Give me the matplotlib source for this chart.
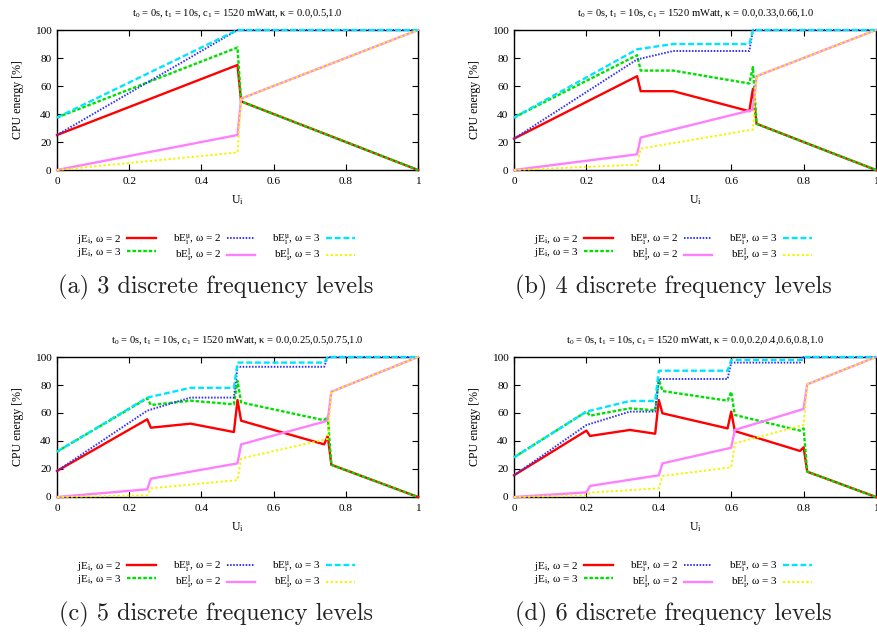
import matplotlib
matplotlib.use("Agg")
import matplotlib.pyplot as plt
from matplotlib.lines import Line2D

plt.rcParams['font.family'] = ['Liberation Serif', 'DejaVu Serif']
plt.rcParams['mathtext.fontset'] = 'custom'
plt.rcParams['mathtext.rm'] = 'Liberation Serif'
plt.rcParams['mathtext.it'] = 'Liberation Serif:italic'
plt.rcParams['mathtext.bf'] = 'Liberation Serif:bold'

# ---------------- data ----------------
KAPPAS = ["0.0,0.5,1.0", "0.0,0.33,0.66,1.0", "0.0,0.25,0.5,0.75,1.0", "0.0,0.2,0.4,0.6,0.8,1.0"]
CAPTIONS = ["(a) 3 discrete frequency levels", "(b) 4 discrete frequency levels",
            "(c) 5 discrete frequency levels", "(d) 6 discrete frequency levels"]
X_TICKS = [0, 0.2, 0.4, 0.6, 0.8, 1]
X_TICK_LABELS = ["0", "0.2", "0.4", "0.6", "0.8", "1"]
Y_TICKS = [0, 20, 40, 60, 80, 100]

# panel (a)
A_JE2_X = [0, 0.5, 0.51, 1]
A_JE2_Y = [25, 75, 49, 0]
A_JE3_X = [0, 0.5, 0.51, 1]
A_JE3_Y = [37.5, 87.5, 49, 0]
A_BU2_X = [0, 0.5, 1]
A_BU2_Y = [25, 100, 100]
A_BL2_X = [0, 0.5, 0.51, 1]
A_BL2_Y = [0, 25, 51, 100]
A_BU3_X = [0, 0.5, 1]
A_BU3_Y = [37.5, 100, 100]
A_BL3_X = [0, 0.5, 0.51, 1]
A_BL3_Y = [0, 12.5, 51, 100]

# panel (b)
B_JE2_X = [0, 0.34, 0.35, 0.44, 0.65, 0.66, 0.67, 1]
B_JE2_Y = [22.4, 67, 56.3, 56.3, 42, 58, 33, 0]
B_JE3_X = [0, 0.34, 0.35, 0.44, 0.65, 0.66, 0.67, 1]
B_JE3_Y = [37.5, 82, 71, 71, 61.8, 73.5, 33, 0]
B_BU2_X = [0, 0.34, 0.44, 0.65, 0.66, 1]
B_BU2_Y = [22.4, 79, 85, 85, 100, 100]
B_BL2_X = [0, 0.34, 0.35, 0.66, 0.67, 1]
B_BL2_Y = [0, 11.2, 23.2, 43, 67, 100]
B_BU3_X = [0, 0.34, 0.44, 0.65, 0.66, 1]
B_BU3_Y = [37.5, 86.2, 90, 90, 100, 100]
B_BL3_X = [0, 0.34, 0.35, 0.66, 0.67, 1]
B_BL3_Y = [0, 3.8, 15.3, 28.9, 67, 100]

# panel (c)
C_JE2_X = [0, 0.25, 0.26, 0.37, 0.49, 0.5, 0.51, 0.74, 0.75, 0.76, 1]
C_JE2_Y = [18.6, 55.5, 49.5, 52.4, 46.4, 69.3, 54.5, 37.6, 43.6, 23, 0]
C_JE3_X = [0, 0.25, 0.26, 0.37, 0.49, 0.5, 0.51, 0.74, 0.75, 0.76, 1]
C_JE3_Y = [32.4, 70.5, 65.7, 68.8, 66.2, 83, 67.6, 54.8, 57.5, 23, 0]
C_BU2_X = [0, 0.25, 0.37, 0.49, 0.5, 0.74, 0.75, 1]
C_BU2_Y = [18.6, 61.7, 71, 71, 93, 93, 100, 100]
C_BL2_X = [0, 0.25, 0.26, 0.5, 0.51, 0.75, 0.76, 1]
C_BL2_Y = [0, 5.5, 13.1, 24, 37.6, 54.5, 75.2, 100]
C_BU3_X = [0, 0.25, 0.37, 0.49, 0.5, 0.74, 0.75, 1]
C_BU3_Y = [32.4, 71, 78, 78, 96, 96, 100, 100]
C_BL3_X = [0, 0.25, 0.26, 0.5, 0.51, 0.75, 0.76, 1]
C_BL3_Y = [0, 1.2, 6.2, 12.1, 27.5, 41.5, 75.2, 100]

# panel (d)
D_JE2_X = [0, 0.2, 0.21, 0.32, 0.39, 0.4, 0.41, 0.59, 0.6, 0.61, 0.79, 0.8, 0.81, 1]
D_JE2_Y = [15.5, 47.4, 43.6, 47.9, 45.2, 69.3, 59.8, 49, 61, 47.1, 32.9, 35.5, 18.1, 0]
D_JE3_X = [0, 0.2, 0.21, 0.32, 0.39, 0.4, 0.41, 0.59, 0.6, 0.61, 0.79, 0.8, 0.81, 1]
D_JE3_Y = [28.3, 61, 58.1, 63.3, 61.9, 84, 75.7, 68.8, 75.2, 58.6, 47.4, 49, 18.1, 0]
D_BU2_X = [0, 0.2, 0.32, 0.39, 0.4, 0.59, 0.6, 0.79, 0.8, 1]
D_BU2_Y = [15.5, 51.4, 61, 61, 84.3, 84.3, 96, 96, 100, 100]
D_BL2_X = [0, 0.2, 0.21, 0.4, 0.41, 0.6, 0.61, 0.8, 0.81, 1]
D_BL2_Y = [0, 3.3, 7.9, 15.5, 24, 35.2, 47.9, 62.9, 80.5, 100]
D_BU3_X = [0, 0.2, 0.32, 0.39, 0.4, 0.59, 0.6, 0.79, 0.8, 1]
D_BU3_Y = [28.3, 61, 68.6, 68.6, 90.2, 90.2, 97.9, 97.9, 100, 100]
D_BL3_X = [0, 0.2, 0.21, 0.4, 0.41, 0.6, 0.61, 0.8, 0.81, 1]
D_BL3_Y = [0, 1, 3.1, 6.2, 15, 21.2, 38.3, 51.4, 80.5, 100]

LABELS = [r"jE$_\mathrm{i}$, ω = 2", r"jE$_\mathrm{i}$, ω = 3",
          r"bE$_\mathrm{i}^\mathrm{u}$, ω = 2", r"bE$_\mathrm{i}^\mathrm{l}$, ω = 2",
          r"bE$_\mathrm{i}^\mathrm{u}$, ω = 3", r"bE$_\mathrm{i}^\mathrm{l}$, ω = 3"]

PANELS = [
    [(A_JE2_X, A_JE2_Y), (A_JE3_X, A_JE3_Y), (A_BU2_X, A_BU2_Y), (A_BL2_X, A_BL2_Y), (A_BU3_X, A_BU3_Y), (A_BL3_X, A_BL3_Y)],
    [(B_JE2_X, B_JE2_Y), (B_JE3_X, B_JE3_Y), (B_BU2_X, B_BU2_Y), (B_BL2_X, B_BL2_Y), (B_BU3_X, B_BU3_Y), (B_BL3_X, B_BL3_Y)],
    [(C_JE2_X, C_JE2_Y), (C_JE3_X, C_JE3_Y), (C_BU2_X, C_BU2_Y), (C_BL2_X, C_BL2_Y), (C_BU3_X, C_BU3_Y), (C_BL3_X, C_BL3_Y)],
    [(D_JE2_X, D_JE2_Y), (D_JE3_X, D_JE3_Y), (D_BU2_X, D_BU2_Y), (D_BL2_X, D_BL2_Y), (D_BU3_X, D_BU3_Y), (D_BL3_X, D_BL3_Y)],
]

# ---------------- style ----------------
STYLES = [
    dict(color='#ff0000', lw=1.7, linestyle='-'),
    dict(color='#00e000', lw=1.7, linestyle=(0, (1.5, 0.8))),
    dict(color='#3030ff', lw=1.4, linestyle=(0, (0.8, 0.8))),
    dict(color='#ff80ff', lw=1.7, linestyle='-'),
    dict(color='#00e5ff', lw=1.7, linestyle=(0, (2.5, 1.2))),
    dict(color='#f5f500', lw=1.4, linestyle=(0, (1.2, 1.2))),
]

W, H = 877, 634
fig = plt.figure(figsize=(W / 100, H / 100), dpi=100)

# axes boxes in pixels: left, top, right, bottom
BOXES = [(57, 30, 418, 170), (514, 30, 876, 170), (57, 357, 418, 497), (514, 357, 876, 497)]
CAP_X = [216, 673, 216, 673]
LEG_Y_OFF = 78      # legend centre below axes bottom (px)
CAP_Y_OFF = 117     # caption centre below axes bottom (px)

for i, (l, t, r, b) in enumerate(BOXES):
    ax = fig.add_axes([l / W, 1 - b / H, (r - l) / W, (b - t) / H])
    for (xs, ys), st in zip(PANELS[i], STYLES):
        ax.plot(xs, ys, clip_on=False, zorder=3, **st)
    ax.set_xlim(0, 1)
    ax.set_ylim(0, 100)
    ax.set_xticks(X_TICKS)
    ax.set_xticklabels(X_TICK_LABELS)
    ax.set_yticks(Y_TICKS)
    ax.tick_params(direction='in', top=True, right=True, length=4, width=0.8,
                   labelsize=8.2, pad=4)
    ax.tick_params(axis='x', pad=5)
    for sp in ax.spines.values():
        sp.set_linewidth(1.0)
    ax.set_title(r"t$_0$ = 0s, t$_1$ = 10s, c$_1$ = 1520 mWatt, κ = " + KAPPAS[i],
                 fontsize=7.6, pad=10)
    ax.set_xlabel(r"U$_\mathrm{i}$", fontsize=8.5, labelpad=5)
    ax.set_ylabel("CPU energy [%]", fontsize=8.6, labelpad=8)

    handles = [Line2D([], [], **st) for st in STYLES]
    fig.legend(handles, LABELS, loc='center', ncol=3, frameon=False,
               bbox_to_anchor=(CAP_X[i] / W, 1 - (b + LEG_Y_OFF) / H),
               fontsize=8, markerfirst=False, handlelength=2.6,
               handletextpad=0.5, columnspacing=1.5, labelspacing=0.0)
    fig.text(CAP_X[i] / W, 1 - (b + CAP_Y_OFF) / H, CAPTIONS[i], family='cmr10',
             fontsize=17.5, ha='center', va='center', color='#222222')

fig.savefig("out.png", dpi=100)
